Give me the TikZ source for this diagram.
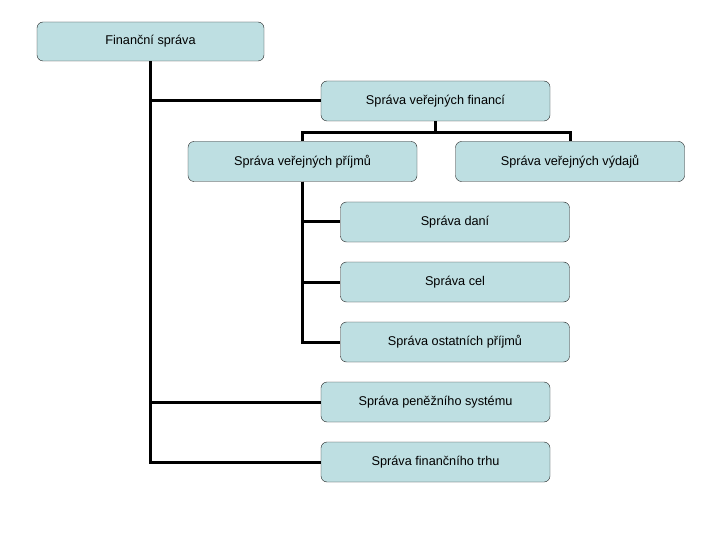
\documentclass[tikz,border=0pt]{standalone}
\usepackage{fontspec}
\setmainfont{Liberation Sans}
\usepackage{tikz}
\usetikzlibrary{positioning}
\definecolor{sboxfill}{HTML}{BEDFE2}
\definecolor{sboxline}{HTML}{202020}

\begin{document}
\begin{tikzpicture}[x=1pt,y=-1pt,
  unit/.style={draw=sboxline,rounded corners=6pt,fill=sboxfill,align=center,
    minimum width=229pt,minimum height=40pt,inner sep=0pt,
    font=\fontsize{12.7}{15}\selectfont},
  link/.style={line width=3pt,black,line join=miter}]
\useasboundingbox (0,0) rectangle (720,540);
\node[unit,minimum width=227pt,minimum height=39pt] (fin) at (150.5,41.5) {Finanční správa};
\node[unit] (svf) at (435.5,101) {Správa veřejných financí};
\node[unit] (prij) at (302.5,161.5) {Správa veřejných příjmů};
\node[unit] (vyd) at (570,161.5) {Správa veřejných výdajů};
\node[unit] (dan) at (455,222) {Správa daní};
\node[unit] (cel) at (455,282) {Správa cel};
\node[unit] (ost) at (455,342) {Správa ostatních příjmů};
\node[unit] (pen) at (435.5,402) {Správa peněžního systému};
\node[unit] (trh) at (435.5,462) {Správa finančního trhu};
% trunk
\draw[link] (fin.south) |- (svf.west);
\draw[link] (fin.south) |- (pen.west);
\draw[link] (fin.south) |- (trh.west);
% financí
\draw[link] (svf.south) -- ++(0,11) -| (prij.north);
\draw[link] (svf.south) -- ++(0,11) -| (vyd.north);
% příjmy
\draw[link] (prij.south) |- (dan.west);
\draw[link] (prij.south) |- (cel.west);
\draw[link] (prij.south) |- (ost.west);
\end{tikzpicture}
\end{document}
